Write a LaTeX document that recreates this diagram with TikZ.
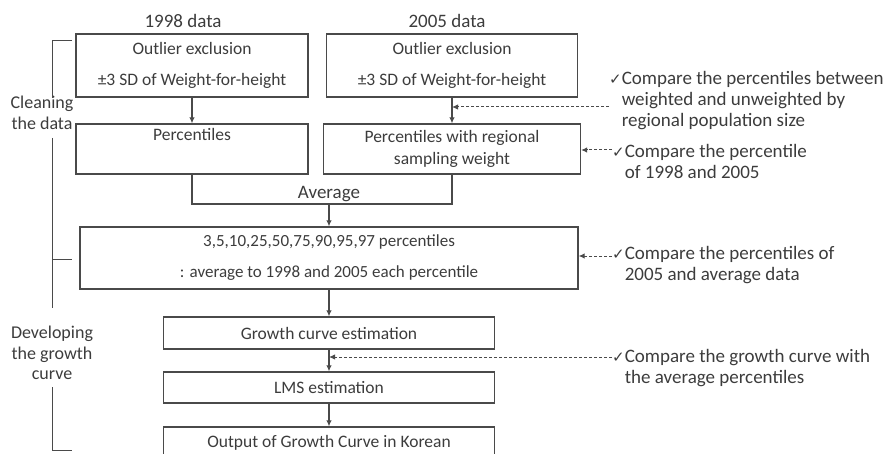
\documentclass[tikz,border=0pt]{standalone}
\usepackage{fontspec}
\setmainfont{Carlito}
\newfontfamily\symfont{DejaVu Sans}
\usetikzlibrary{arrows.meta}

\definecolor{inkgray}{HTML}{3C3C3C}
\definecolor{linegray}{HTML}{4A4A4A}

\newcommand{\chk}{{\symfont\fontsize{15}{15}\selectfont ✓}}
\newcommand{\gapfont}{\fontsize{17.5}{31.5}\selectfont}

\tikzset{
    stepbox/.style={draw=linegray, line width=1.3pt, align=center, inner sep=0pt},
    flow/.style={draw=linegray, line width=1.1pt},
    cmp/.style={draw=linegray, line width=1pt, dash pattern=on 3pt off 2pt, ->},
    note/.style={anchor=west, align=left, inner sep=0pt, font=\fontsize{19}{21}\selectfont},
    side/.style={align=center, inner sep=0pt, font=\fontsize{18}{20.5}\selectfont},
    head/.style={font=\fontsize{19}{22}\selectfont},
}

\begin{document}
\begin{tikzpicture}[x=1pt,y=-1pt,font=\fontsize{17.5}{22}\selectfont,text=inkgray,
        >={Latex[length=6pt,width=5.5pt]}]
    \useasboundingbox (0,0) rectangle (890,454);
    \clip (0,0) rectangle (890,454);
    %% Cleaning the data
    \node[head] (head98) at (183,21) {1998 data};
    \node[head] (head05) at (447,21) {2005 data};
    \node[stepbox, minimum width=232pt, minimum height=63pt, font=\gapfont] (out98) at (192,65.5)
        {Outlier exclusion\\±3 SD of Weight-for-height};
    \node[stepbox, minimum width=251pt, minimum height=63pt, font=\gapfont] (out05) at (452,65.5)
        {Outlier exclusion\\±3 SD of Weight-for-height};
    \node[stepbox, minimum width=232pt, minimum height=50pt] (pct98) at (192,149)
        {Percentiles\\\strut};
    \node[stepbox, minimum width=257pt, minimum height=50pt] (pct05) at (452,149)
        {Percentiles with regional\\sampling weight};
        \draw[flow,->] (out98) -- (pct98);
        \draw[flow,->] (out05) -- (pct05);
    \coordinate (join) at (329,204);
        \draw[flow] (pct98.south) |- (join) -| (pct05.south);
    \node[head, anchor=south, inner sep=2pt] (avg) at (join) {Average};
    %% Developing the growth curve
    \node[stepbox, minimum width=498pt, minimum height=62pt, font=\fontsize{17}{31}\selectfont] (pctall) at (329,258)
        {3,5,10,25,50,75,90,95,97 percentiles\\: average to 1998 and 2005 each percentile};
    \node[stepbox, minimum width=331pt, minimum height=32pt] (grow) at (329,333) {Growth curve estimation};
    \node[stepbox, minimum width=331pt, minimum height=31pt] (lms) at (329,387.5) {LMS estimation};
    \node[stepbox, minimum width=331pt, minimum height=32pt] (korea) at (329,443) {Output of Growth Curve in Korean};
        \draw[flow,->] (join) -- (pctall);
        \draw[flow,->] (pctall) -- (grow);
        \draw[flow,->] (grow) -- (lms);
        \draw[flow,->] (lms) -- (korea);
    %% left bracket
    \node[side] (clean) at (42,113) {Cleaning\\the data};
    \node[side] (develop) at (52,353) {Developing\\the growth\\curve};
    \coordinate (brtop) at (72,41);
    \coordinate (brmid) at (72,259);
    \coordinate (brbot) at (72,450);
    \draw[flow, line width=1pt] (brtop) -- (52,41) -- (52,98);
    \draw[flow, line width=1pt] (52,138) -- (52,308);
    \draw[flow, line width=1pt] (52,259) -- (brmid);
    \draw[flow, line width=1pt] (52,387) -- (52,450) -- (brbot);
    %% comparisons
    \node[note] (cmp1) at (609,101) {\chk Compare the percentiles between\\
        \phantom{\chk}weighted and unweighted by\\\phantom{\chk}regional population size};
    \node[note] (cmp2) at (612,161.5) {\chk Compare the percentile\\\phantom{\chk}of 1998 and 2005};
    \node[note] (cmp3) at (612,265) {\chk Compare the percentiles of\\\phantom{\chk}2005 and average data};
    \node[note] (cmp4) at (612,368.5) {\chk Compare the growth curve with\\\phantom{\chk}the average percentiles};
    \coordinate (tap05) at (452,107);
    \coordinate (tapfit) at (329,357);
        \draw[cmp] (cmp1.west |- tap05) -- (tap05);
        \draw[cmp] (cmp2.west |- 0,150) -- (pct05.east |- 0,150);
        \draw[cmp] (cmp3.west |- 0,256) -- (pctall.east |- 0,256);
        \draw[cmp] (cmp4.west |- tapfit) -- (tapfit);
\end{tikzpicture}
\end{document}
